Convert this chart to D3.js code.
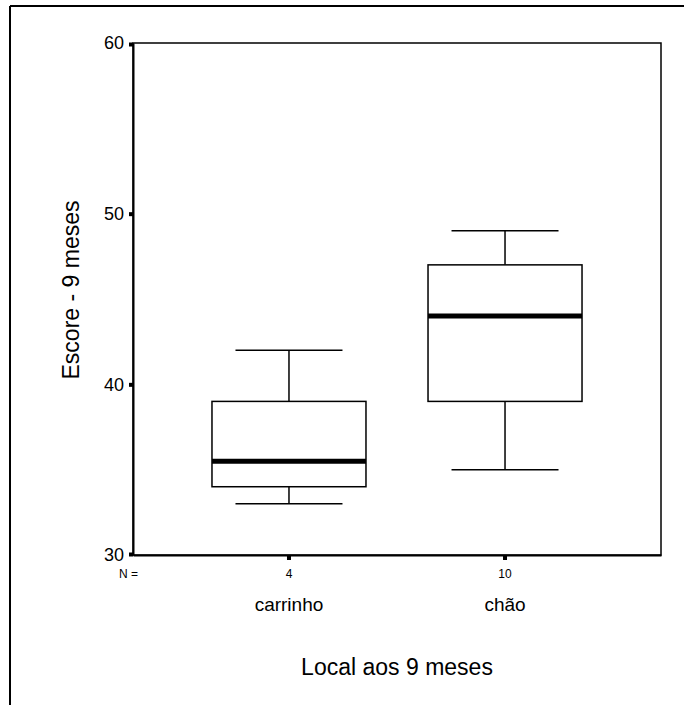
<!DOCTYPE html>
<html><head><meta charset="utf-8">
<script src="https://cdn.jsdelivr.net/npm/d3@7"></script>
<style>body{margin:0;background:#fff;} svg{display:block;font-family:"Liberation Sans",Arial,sans-serif;}</style>
</head><body>
<svg id="c" width="684" height="705"></svg>
<script>
const categories = ["carrinho", "chão"];
const counts = [4, 10];
const whiskerLow = [33, 35];
const q1 = [34, 39];
const median = [35.5, 44];
const q3 = [39, 47];
const whiskerHigh = [42, 49];
const yTicks = [30, 40, 50, 60];

const svg = d3.select("#c");
const L = 133, T = 43, R = 661, B = 555;

// outer frame (top and left)
svg.append("line").attr("x1",10).attr("x2",684).attr("y1",6).attr("y2",6).attr("stroke","#000").attr("stroke-width",2);
svg.append("line").attr("x1",10).attr("x2",10).attr("y1",6).attr("y2",705).attr("stroke","#000").attr("stroke-width",2);

const y = d3.scaleLinear().domain([30,60]).range([B,T]);
const x = d3.scaleBand().domain(categories).range([L,R]).paddingInner(0).paddingOuter(0.222);
const cx = c => x(c) + x.bandwidth()/2;

// plot frame
svg.append("rect").attr("x",L).attr("y",T).attr("width",R-L).attr("height",B-T)
  .attr("fill","none").attr("stroke","#000").attr("stroke-width",1.5);

// y axis ticks and labels
const yAxis = d3.axisLeft(y).tickValues(yTicks).tickSize(0).tickPadding(9);
const gy = svg.append("g").attr("transform",`translate(${L},0)`).call(yAxis);
gy.select(".domain").attr("stroke","#000").attr("stroke-width",2);
gy.selectAll(".tick text").attr("font-size",18).attr("fill","#000").attr("font-family","Liberation Sans, Arial, sans-serif");
gy.selectAll(".tick").append("rect").attr("x",-4).attr("y",d => d===60 ? -1 : (d===30 ? -3 : -2)).attr("width",4).attr("height",4).attr("fill","#000");

// x axis ticks
const xAxis = d3.axisBottom(x).tickSize(0).tickFormat("");
const gx = svg.append("g").attr("transform",`translate(0,${B})`).call(xAxis);
gx.select(".domain").attr("stroke","#000").attr("stroke-width",2);
gx.selectAll(".tick").append("rect").attr("x",-2).attr("y",1).attr("width",4).attr("height",4).attr("fill","#000");

// N labels
svg.append("text").attr("x",L-14).attr("y",578).attr("font-size",12).text("N =");
svg.selectAll("text.n").data(categories).join("text").attr("class","n")
  .attr("x",d=>cx(d)).attr("y",578).attr("text-anchor","middle").attr("font-size",12)
  .text((d,i)=>counts[i]);

// category labels
svg.selectAll("text.cat").data(categories).join("text").attr("class","cat")
  .attr("x",d=>cx(d)).attr("y",611).attr("text-anchor","middle").attr("font-size",19)
  .text(d=>d);

// axis titles
svg.append("text").attr("x",(L+R)/2).attr("y",675).attr("text-anchor","middle").attr("font-size",23).text("Local aos 9 meses");
svg.append("text").attr("transform",`translate(79,290) rotate(-90)`).attr("text-anchor","middle").attr("font-size",23).text("Escore - 9 meses");

// boxes
const boxW = 154, capW = 107;
const g = svg.append("g");
categories.forEach((c,i)=>{
  const X = cx(c);
  g.append("line").attr("x1",X).attr("x2",X).attr("y1",y(whiskerHigh[i])).attr("y2",y(q3[i])).attr("stroke","#000").attr("stroke-width",1.5);
  g.append("line").attr("x1",X).attr("x2",X).attr("y1",y(q1[i])).attr("y2",y(whiskerLow[i])).attr("stroke","#000").attr("stroke-width",1.5);
  g.append("line").attr("x1",X-capW/2).attr("x2",X+capW/2).attr("y1",y(whiskerHigh[i])).attr("y2",y(whiskerHigh[i])).attr("stroke","#000").attr("stroke-width",1.5);
  g.append("line").attr("x1",X-capW/2).attr("x2",X+capW/2).attr("y1",y(whiskerLow[i])).attr("y2",y(whiskerLow[i])).attr("stroke","#000").attr("stroke-width",1.5);
  g.append("rect").attr("x",X-boxW/2).attr("y",y(q3[i])).attr("width",boxW).attr("height",y(q1[i])-y(q3[i]))
    .attr("fill","#fff").attr("stroke","#000").attr("stroke-width",1.5);
  g.append("line").attr("x1",X-boxW/2).attr("x2",X+boxW/2).attr("y1",y(median[i])).attr("y2",y(median[i])).attr("stroke","#000").attr("stroke-width",5);
});
</script>
</body></html>
